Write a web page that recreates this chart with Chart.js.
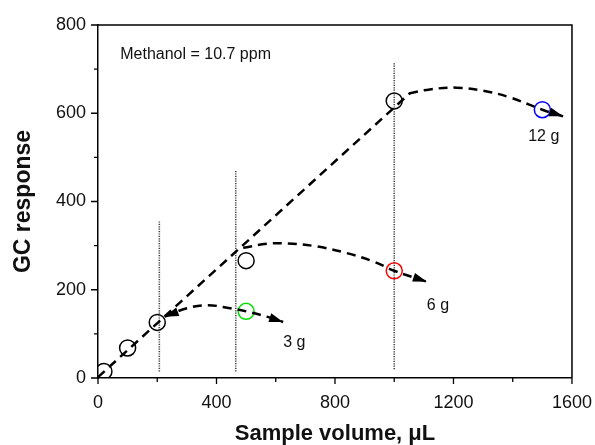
<!DOCTYPE html>
<html>
<head>
<meta charset="utf-8">
<script src="https://cdn.jsdelivr.net/npm/chart.js@4.4.1/dist/chart.umd.min.js"></script>
<style>
  html, body { margin: 0; padding: 0; background: #fff; }
  #wrap { width: 595px; height: 445px; }
</style>
</head>
<body>
<div id="wrap"><canvas id="myChart"></canvas></div>
<script>
/* Datos */
var volBlack = [20, 100, 200, 500, 1000];
var respBlack = [15, 68, 126, 266, 628];

var vol3g = [500];
var resp3g = [151];
var vol6g = [1000];
var resp6g = [243];
var vol12g = [1500];
var resp12g = [608];

// linea recta discontinua
var volLinea = [0, 1054];
var respLinea = [2, 646];

// curvas discontinuas
var volCurva3g = [225, 300, 370, 446, 500, 570, 625];
var respCurva3g = [139, 158, 165, 158, 151, 139, 127];
var volCurva6g = [490, 570, 640, 740, 840, 930, 1000, 1110];
var respCurva6g = [295, 304, 305, 298, 283, 264, 243, 218];
var volCurva12g = [1050, 1120, 1210, 1300, 1390, 1500, 1570];
var respCurva12g = [645, 654, 658, 651, 636, 608, 593];

// lineas verticales punteadas
var volVert = [207, 465, 1000];
var respVertIni = [15, 15, 20];
var respVertFin = [356, 470, 714];

// textos
var textos = ["Methanol = 10.7 ppm", "3 g", "6 g", "12 g"];
var textoX = [75, 625, 1110, 1452];
var textoY = [733, 81, 165, 547];

var xTicksLabel = [0, 400, 800, 1200, 1600];
var yTicksLabel = [0, 200, 400, 600, 800];

var fuente = "'Liberation Sans', Arial, sans-serif";

function puntos(xs, ys) {
	var arr = [];
	for (var i = 0; i < xs.length; i++) {
		arr.push({x: xs[i], y: ys[i]});
	}
	return arr;
}

function circulos(xs, ys, color) {
	return {
		data: puntos(xs, ys),
		showLine: false,
		pointRadius: 8,
		pointHoverRadius: 8,
		pointBorderWidth: 1.5,
		pointBorderColor: color,
		pointBackgroundColor: "rgba(0,0,0,0)"
	};
}

function curva(xs, ys, arrowEnd, arrowStart) {
	return {
		data: puntos(xs, ys),
		showLine: true,
		borderColor: "#000",
		borderWidth: 2.5,
		borderDash: [9, 6],
		pointRadius: 0,
		tension: 0.4,
		arrowEnd: arrowEnd,
		arrowStart: arrowStart
	};
}

var datasets = [];
datasets.push(curva(volLinea, respLinea, false, false));
datasets[0].tension = 0;
datasets.push(curva(volCurva3g, respCurva3g, true, true));
datasets.push(curva(volCurva6g, respCurva6g, true, false));
datasets.push(curva(volCurva12g, respCurva12g, true, false));
for (var v = 0; v < volVert.length; v++) {
	datasets.push({
		data: puntos([volVert[v], volVert[v]], [respVertIni[v], respVertFin[v]]),
		showLine: true,
		borderColor: "#444",
		borderWidth: 1.6,
		borderDash: [1.2, 1.2],
		pointRadius: 0
	});
}
datasets.push(circulos(volBlack, respBlack, "#000"));
datasets.push(circulos(vol3g, resp3g, "#00e000"));
datasets.push(circulos(vol6g, resp6g, "#ff0000"));
datasets.push(circulos(vol12g, resp12g, "#0000ff"));

/* Flechas, marco, ticks menores y textos */
function flecha(ctx, x0, y0, x1, y1) {
	var ang = Math.atan2(y1 - y0, x1 - x0);
	var largo = 14, ancho = 4.5;
	ctx.save();
	ctx.translate(x1, y1);
	ctx.rotate(ang);
	ctx.beginPath();
	ctx.moveTo(0, 0);
	ctx.lineTo(-largo, -ancho);
	ctx.lineTo(-largo, ancho);
	ctx.closePath();
	ctx.fillStyle = "#000";
	ctx.fill();
	ctx.restore();
}

var pluginExtra = {
	id: "extra",
	afterDatasetsDraw: function(chart) {
		var ctx = chart.ctx;
		var xs = chart.scales.x, ys = chart.scales.y;
		var area = chart.chartArea;

		chart.data.datasets.forEach(function(ds) {
			var n = ds.data.length;
			if (ds.arrowEnd) {
				var a = ds.data[n - 2], b = ds.data[n - 1];
				flecha(ctx, xs.getPixelForValue(a.x), ys.getPixelForValue(a.y),
					xs.getPixelForValue(b.x), ys.getPixelForValue(b.y));
			}
			if (ds.arrowStart) {
				var c = ds.data[1], d = ds.data[0];
				flecha(ctx, xs.getPixelForValue(c.x), ys.getPixelForValue(c.y),
					xs.getPixelForValue(d.x), ys.getPixelForValue(d.y));
			}
		});

		// marco superior y derecho
		ctx.save();
		ctx.strokeStyle = "#000";
		ctx.lineWidth = 1.5;
		ctx.beginPath();
		ctx.moveTo(area.left, area.top);
		ctx.lineTo(area.right, area.top);
		ctx.lineTo(area.right, area.bottom);
		ctx.stroke();

		// ticks
		ctx.lineWidth = 1.3;
		ctx.beginPath();
		xs.ticks.forEach(function(t) {
			var px = xs.getPixelForValue(t.value);
			var l = (t.value % 400 === 0) ? 6 : 4;
			ctx.moveTo(px, area.bottom);
			ctx.lineTo(px, area.bottom + l);
		});
		ys.ticks.forEach(function(t) {
			var py = ys.getPixelForValue(t.value);
			var l = (t.value % 200 === 0) ? 7 : 4;
			ctx.moveTo(area.left, py);
			ctx.lineTo(area.left - l, py);
		});
		ctx.stroke();

		// textos
		ctx.fillStyle = "#111";
		ctx.textAlign = "left";
		ctx.textBaseline = "middle";
		ctx.font = "16px " + fuente;
		for (var i = 0; i < textos.length; i++) {
			ctx.fillText(textos[i], xs.getPixelForValue(textoX[i]), ys.getPixelForValue(textoY[i]));
		}
		ctx.restore();
	}
};

var options = {
	animation: false,
	responsive: true,
	maintainAspectRatio: false,
	layout: { padding: { top: 25, right: 23, left: 0, bottom: 0 } },
	plugins: {
		legend: { display: false },
		tooltip: { enabled: false }
	},
	scales: {
		x: {
			type: "linear",
			min: 0,
			max: 1600,
			afterFit: function(scale) { scale.height = 67; },
			border: { color: "#000", width: 1.5 },
			grid: { drawOnChartArea: false, drawTicks: true, tickLength: 11, tickColor: "rgba(0,0,0,0)" },
			ticks: {
				stepSize: 200,
				padding: 3,
				color: "#111",
				maxRotation: 0,
				font: { family: fuente, size: 18 },
				callback: function(value) { return xTicksLabel.indexOf(value) >= 0 ? value : ""; }
			},
			title: {
				display: true,
				text: "Sample volume, \u03bcL",
				color: "#111",
				padding: { top: 0, bottom: -2 },
				font: { family: fuente, size: 22, weight: "bold" }
			}
		},
		y: {
			type: "linear",
			min: 0,
			max: 800,
			afterFit: function(scale) { scale.width = 98; },
			border: { color: "#000", width: 1.5 },
			grid: { drawOnChartArea: false, drawTicks: true, tickLength: 9, tickColor: "rgba(0,0,0,0)" },
			ticks: {
				stepSize: 100,
				padding: 3,
				color: "#111",
				font: { family: fuente, size: 18 },
				callback: function(value) { return yTicksLabel.indexOf(value) >= 0 ? value : ""; }
			},
			title: {
				display: true,
				text: "GC response",
				color: "#111",
				padding: { top: 10, bottom: 0 },
				font: { family: fuente, size: 23, weight: "bold" }
			}
		}
	}
};

var grafico = new Chart(document.getElementById("myChart").getContext("2d"), {
	type: "scatter",
	data: { datasets: datasets },
	options: options,
	plugins: [pluginExtra]
});
</script>
</body>
</html>
